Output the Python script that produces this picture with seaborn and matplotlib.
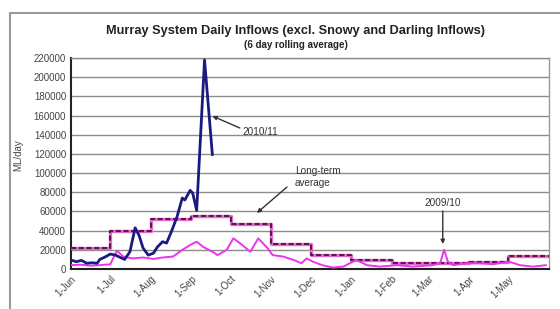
import pandas as pd
import matplotlib.pyplot as plt
import matplotlib.dates as mdates
from matplotlib.patches import Rectangle
import seaborn as sns

# ====================
# Данные (ML/day)
# ====================
dates_2010_11 = ['2010-06-01', '2010-06-05', '2010-06-09', '2010-06-13', '2010-06-17',
                 '2010-06-21', '2010-06-23', '2010-06-27', '2010-07-01', '2010-07-05',
                 '2010-07-08', '2010-07-12', '2010-07-16', '2010-07-20', '2010-07-23',
                 '2010-07-26', '2010-07-30', '2010-08-03', '2010-08-06', '2010-08-10',
                 '2010-08-13', '2010-08-17', '2010-08-21', '2010-08-25', '2010-08-27',
                 '2010-08-31', '2010-09-02', '2010-09-05', '2010-09-11', '2010-09-17']
flow_2010_11 = [9400, 7600, 9000, 6000, 6500, 6000, 10000, 12500, 15600, 14500,
                12500, 10000, 18000, 43000, 35000, 22000, 14500, 16500, 23000, 28500,
                27000, 40000, 54500, 74000, 72000, 82000, 79000, 61000, 218000, 119000]

dates_2009_10 = ['2010-06-01', '2010-06-08', '2010-06-16', '2010-06-23', '2010-07-01',
                 '2010-07-06', '2010-07-11', '2010-07-18', '2010-07-26', '2010-08-03',
                 '2010-08-10', '2010-08-18', '2010-08-25', '2010-08-31', '2010-09-05',
                 '2010-09-10', '2010-09-17', '2010-09-21', '2010-09-28', '2010-10-03',
                 '2010-10-08', '2010-10-16', '2010-10-22', '2010-10-29', '2010-11-02',
                 '2010-11-10', '2010-11-18', '2010-11-24', '2010-11-28', '2010-12-03',
                 '2010-12-10', '2010-12-18', '2010-12-26', '2011-01-05', '2011-01-13',
                 '2011-01-23', '2011-02-05', '2011-02-17', '2011-03-04', '2011-03-10',
                 '2011-03-13', '2011-03-16', '2011-03-20', '2011-03-30', '2011-04-09',
                 '2011-04-19', '2011-05-02', '2011-05-10', '2011-05-20', '2011-05-30']
flow_2009_10 = [4000, 4500, 3500, 4000, 5000, 19000, 13000, 11000, 12000, 10500,
                12000, 13000, 20000, 25000, 28500, 23000, 18000, 14500, 20000, 32000,
                27000, 18000, 32000, 22000, 14500, 13000, 9500, 6000, 11000, 7500,
                4000, 1500, 2500, 9500, 4000, 2500, 4000, 2500, 4000, 6000,
                20000, 7500, 4000, 6000, 6000, 5000, 7500, 4000, 2500, 4000]

# среднемноголетние значения по месяцам (ступенчатая линия)
month_starts = ['2010-06-01', '2010-07-01', '2010-08-01', '2010-09-01', '2010-10-01',
                '2010-11-01', '2010-12-01', '2011-01-01', '2011-02-01', '2011-03-01',
                '2011-04-01', '2011-05-01', '2011-06-01']
long_term_avg = [22000, 40000, 52000, 55000, 47000, 26000, 15000, 9000, 6500, 6000,
                 7500, 14000, 14000]
month_labels = ['1-Jun', '1-Jul', '1-Aug', '1-Sep', '1-Oct', '1-Nov', '1-Dec',
                '1-Jan', '1-Feb', '1-Mar', '1-Apr', '1-May']

df_new = pd.DataFrame({'date': pd.to_datetime(dates_2010_11), 'flow': flow_2010_11})
df_old = pd.DataFrame({'date': pd.to_datetime(dates_2009_10), 'flow': flow_2009_10})
df_avg = pd.DataFrame({'date': pd.to_datetime(month_starts), 'flow': long_term_avg})

sns.set_style('white')
plt.rcParams['font.family'] = ['Liberation Sans', 'DejaVu Sans']

fig = plt.figure(figsize=(5.6, 3.09), dpi=100)
ax = fig.add_axes([0.1268, 0.1294, 0.8532, 0.6829])

# рамка области диаграммы (как в Excel)
fig.patches.append(Rectangle((10 / 560, -0.1), 1.2, 1 - 13 / 309 + 0.1,
                             transform=fig.transFigure, fill=False,
                             edgecolor='#9a9a9a', linewidth=1.5))

# long-term average: розовая подложка + тёмный пунктир
sns.lineplot(data=df_avg, x='date', y='flow', ax=ax, color='#e070d0',
             linewidth=2.4, drawstyle='steps-post', zorder=3)
sns.lineplot(data=df_avg, x='date', y='flow', ax=ax, color='#6a1050',
             linewidth=1.5, drawstyle='steps-post', linestyle=(0, (2.5, 1.2)), zorder=4)
sns.lineplot(data=df_old, x='date', y='flow', ax=ax, color='#ee33ee',
             linewidth=1.4, zorder=5)
sns.lineplot(data=df_new, x='date', y='flow', ax=ax, color='#1a1a80',
             linewidth=2.0, zorder=6)

ax.set_xlim(pd.Timestamp('2010-06-01'), pd.Timestamp('2011-06-01'))
ax.set_ylim(0, 220000)
ax.set_yticks(range(0, 220001, 20000))
ax.set_yticklabels([str(v) for v in range(0, 220001, 20000)], fontsize=7, color='#444444')
ax.set_xticks(pd.to_datetime(month_starts[:-1]))
ax.set_xticklabels(month_labels, rotation=45, ha='right', rotation_mode='anchor',
                   fontsize=7, color='#444444')
ax.tick_params(axis='both', length=3, width=1, color='#222222', pad=2, direction='inout')
ax.set_xlabel('')
ax.set_ylabel('ML/day', fontsize=7, color='#444444', labelpad=1)
ax.yaxis.set_label_coords(-0.1, 0.54)

ax.grid(axis='y', color='#8c8c8c', linewidth=1)
ax.grid(axis='x', visible=False)
for side in ['left', 'bottom']:
    ax.spines[side].set_color('#222222')
    ax.spines[side].set_linewidth(1.5)
ax.spines['right'].set_color('#9a9a9a')
ax.spines['top'].set_color('#8c8c8c')
ax.spines['right'].set_linewidth(1)
ax.spines['top'].set_linewidth(1)

# заголовки
fig.text(296 / 560, 1 - 31 / 309, 'Murray System Daily Inflows (excl. Snowy and Darling Inflows)',
         ha='center', va='center', fontsize=9.2, fontweight='bold', color='#222222')
fig.text(296 / 560, 1 - 45 / 309, '(6 day rolling average)',
         ha='center', va='center', fontsize=7, fontweight='bold', color='#222222')

# подписи со стрелками
d = mdates.date2num
arrow = dict(arrowstyle='-|>', color='#333333', lw=1, mutation_scale=6, shrinkA=0, shrinkB=0)
ax.annotate('', xy=(d(pd.Timestamp('2010-09-17')), 159500),
            xytext=(d(pd.Timestamp('2010-10-08')), 147000), arrowprops=arrow)
ax.text(d(pd.Timestamp('2010-10-10')), 143000, '2010/11', fontsize=7.2, color='#333333',
        ha='left', va='center')
ax.annotate('', xy=(d(pd.Timestamp('2010-10-21')), 58400),
            xytext=(d(pd.Timestamp('2010-11-13')), 85500), arrowprops=arrow)
ax.text(d(pd.Timestamp('2010-11-19')), 96000, 'Long-term\naverage', fontsize=7.2,
        color='#333333', ha='left', va='center', linespacing=1.2)
ax.annotate('', xy=(d(pd.Timestamp('2011-03-12')), 26000),
            xytext=(d(pd.Timestamp('2011-03-12')), 60500), arrowprops=arrow)
ax.text(d(pd.Timestamp('2011-03-12')), 69000, '2009/10', fontsize=7.2, color='#333333',
        ha='center', va='center')

plt.savefig('out.png', dpi=100)
